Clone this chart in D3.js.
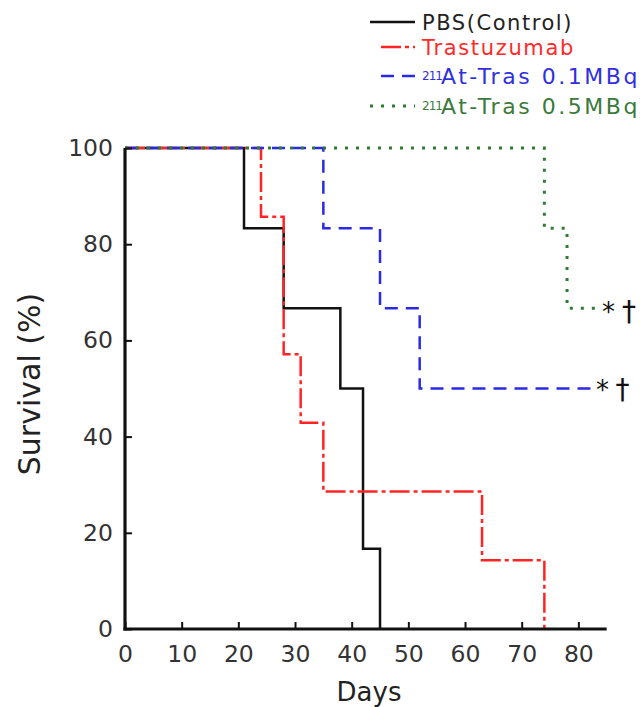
<!DOCTYPE html>
<html><head><meta charset="utf-8">
<script src="https://cdn.jsdelivr.net/npm/d3@7"></script>
<style>body{margin:0;background:#fff}svg{display:block}text{font-family:"DejaVu Sans",sans-serif}</style>
</head><body><svg id="c" width="643" height="707"></svg>
<script>
// Data
const seriesNames = ["PBS(Control)", "Trastuzumab", "At-Tras 0.1MBq", "At-Tras 0.5MBq"];
const seriesSup = [null, null, "211", "211"];
const pbsDays = [0, 21, 28, 38, 42, 45];
const pbsSurv = [100, 83.3, 66.7, 50, 16.7, 0];
const trasDays = [0, 24, 28, 31, 35, 63, 74];
const trasSurv = [100, 85.7, 57.1, 42.9, 28.6, 14.3, 0];
const at01Days = [0, 35, 45, 52, 83];
const at01Surv = [100, 83.3, 66.7, 50, 50];
const at05Days = [0, 74, 78, 84];
const at05Surv = [100, 83.3, 66.7, 66.7];
const xTicks = [0, 10, 20, 30, 40, 50, 60, 70, 80];
const yTicks = [0, 20, 40, 60, 80, 100];
const sigLabels = ["*", "†"];

const colors = ["#111111", "#ff2424", "#2a2ae6", "#2e7d32"];
const textColors = ["#222222", "#ff2a2a", "#3030e0", "#3a7a3a"];
const dashes = [null, "20,4,4,4", "13,8", "3,8"];
const widths = [2.5, 2.5, 2.5, 3];

const svg = d3.select("#c");
const x = d3.scaleLinear().domain([0, 85]).range([125, 606.7]);
const y = d3.scaleLinear().domain([0, 100]).range([629, 148]);

const series = [
  pbsDays.map((d, i) => [d, pbsSurv[i]]),
  trasDays.map((d, i) => [d, trasSurv[i]]),
  at01Days.map((d, i) => [d, at01Surv[i]]),
  at05Days.map((d, i) => [d, at05Surv[i]])
];

const line = d3.line().x(d => x(d[0])).y(d => y(d[1])).curve(d3.curveStepAfter);

series.forEach((s, i) => {
  svg.append("path").attr("d", line(s)).attr("fill", "none")
    .attr("stroke", colors[i]).attr("stroke-width", widths[i])
    .attr("stroke-dasharray", dashes[i]);
});

// Axes (inward ticks)
const xAxis = d3.axisBottom(x).tickValues(xTicks).tickSize(-7).tickPadding(16).tickSizeOuter(0);
const yAxis = d3.axisLeft(y).tickValues(yTicks).tickSize(-7).tickPadding(12).tickSizeOuter(0);
const gx = svg.append("g").attr("transform", `translate(0,${y(0)})`).call(xAxis);
const gy = svg.append("g").attr("transform", `translate(${x(0)},0)`).call(yAxis);
[gx, gy].forEach(g => {
  g.select(".domain").attr("stroke", "#111").attr("stroke-width", 3.2);
  g.selectAll(".tick line").attr("stroke", "#111").attr("stroke-width", 2);
  g.selectAll(".tick text").attr("fill", "#333").style("font-size", "23.5px")
    .style("font-family", '"DejaVu Sans",sans-serif');
});
gx.selectAll(".tick text").attr("dy", "0.71em");
gy.select(".domain").attr("d", `M0,${y(0)+1.6}V${y(100)}`);
gx.select(".domain").attr("d", `M${x(0)-1.6},0H${x(85)}`);

// Axis titles
svg.append("text").attr("x", 369).attr("y", 701).attr("text-anchor", "middle")
  .attr("fill", "#222").style("font-size", "26px").text("Days");
svg.append("text").attr("transform", "translate(40,384) rotate(-90)").attr("text-anchor", "middle")
  .attr("fill", "#222").style("font-size", "30px").text("Survival (%)");

// Significance marks, centred on target points beyond the curve ends
const markTargets = [
  [[608.5, 312], [629, 311]],
  [[602.5, 390], [622.5, 389]]
];
const markSizes = [26, 28];
markTargets.forEach(pair => {
  pair.forEach((c, k) => {
    const t = svg.append("text").attr("x", 0).attr("y", 0).attr("fill", "#111")
      .style("font-size", markSizes[k] + "px").text(sigLabels[k]);
    const b = t.node().getBBox();
    t.attr("x", c[0] - (b.x + b.width / 2)).attr("y", c[1] - (b.y + b.height / 2));
  });
});

// Legend
const legY = [22, 47, 76, 106];
const legX0 = [370, 381, 381, 370];
const legTextEnd = [573, 575, 640, 640];
seriesNames.forEach((name, i) => {
  svg.append("line").attr("x1", legX0[i]).attr("x2", 415).attr("y1", legY[i]).attr("y2", legY[i])
    .attr("stroke", colors[i]).attr("stroke-width", widths[i]).attr("stroke-dasharray", dashes[i]);
  const base = legY[i] + 7.5;
  const t = svg.append("text").attr("y", base).attr("fill", textColors[i]).style("font-size", "21px");
  let startX = 422;
  if (seriesSup[i]) {
    t.append("tspan").attr("x", 422).attr("y", base - 4).style("font-size", "12px")
      .style("letter-spacing", "-1px").text(seriesSup[i]);
    startX = 441;
  }
  const main = t.append("tspan").attr("x", startX).attr("y", base)
    .style("font-size", seriesSup[i] ? "22px" : "21px").text(name);
  const len = main.node().getComputedTextLength();
  const ls = (legTextEnd[i] - startX - len) / name.length;
  main.style("letter-spacing", ls + "px");
});
</script></body></html>
